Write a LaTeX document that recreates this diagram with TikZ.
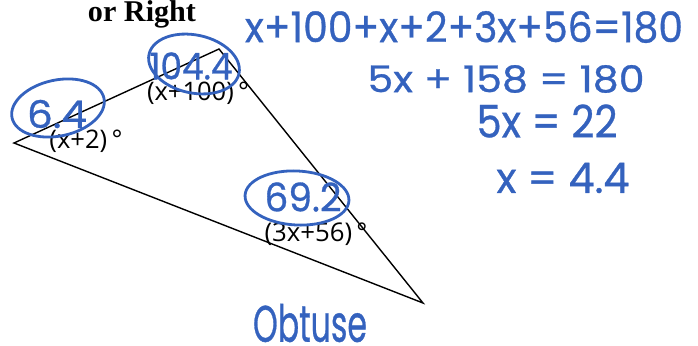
\documentclass[tikz,border=0pt]{standalone}
\usepackage{fontspec}
\setmainfont{Liberation Serif}
\newfontfamily\labfont{Open Sans}
\newfontfamily\handfont{Poppins}[FakeBold=0.8]
\definecolor{ink}{RGB}{52,98,190}
\newcommand{\fitbox}[3]{\resizebox{#1pt}{#2pt}{#3}}
\newcommand{\fitw}[2]{\resizebox{#1pt}{!}{#2}}
\begin{document}
\begin{tikzpicture}[x=1pt,y=-1pt,
  lab/.style={font=\labfont, inner sep=0pt, anchor=center},
  hand/.style={font=\handfont, text=ink, inner sep=0pt, anchor=center},
  ring/.style={draw=ink, line width=2.8pt},
  side/.style={draw=black, line width=1.4pt}]
\useasboundingbox (0,0) rectangle (698,345);
\coordinate (A) at (14,143);
\coordinate (B) at (219,49);
\coordinate (C) at (423,303);
\draw[side] (A) -- (B) -- (C) -- cycle;
\node[font=\bfseries, inner sep=0pt, anchor=base] (title) at (142,22) {\fitw{108}{or Right}};
\node[lab] (la) at (86,141) {\fitw{73}{(x+2)\,°}};
\node[lab] (lb) at (198,93) {\fitw{102}{(x+100)\,°}};
\node[lab] (lc) at (316,234) {\fitw{103}{(3x+56)\,°}};
\draw[ring, rotate around={12:(58,108)}] (58,108) ellipse[x radius=47, y radius=28];
\draw[ring, rotate around={-12:(194,64)}] (194,64) ellipse[x radius=46, y radius=29];
\draw[ring, rotate around={-3:(297,198)}] (297,198) ellipse[x radius=52, y radius=27];
\node[hand] (va) at (57,114) {\fitbox{60}{28}{6.4}};
\node[hand] (vb) at (191,66) {\fitbox{83}{27}{104.4}};
\node[hand] (vc) at (303,197) {\fitbox{77}{29}{69.2}};
\node[hand] (e1) at (464,27) {\fitbox{438}{31}{x+100+x+2+3x+56=180}};
\node[hand] (e2) at (506,79) {\fitbox{277}{27}{5x + 158 = 180}};
\node[hand] (e3) at (547,121) {\fitbox{141}{33}{5x = 22}};
\node[hand] (e4) at (563,178) {\fitbox{133}{30}{x = 4.4}};
\node[hand] (ob) at (310,323) {\fitbox{114}{38}{Obtuse}};
\end{tikzpicture}
\end{document}
